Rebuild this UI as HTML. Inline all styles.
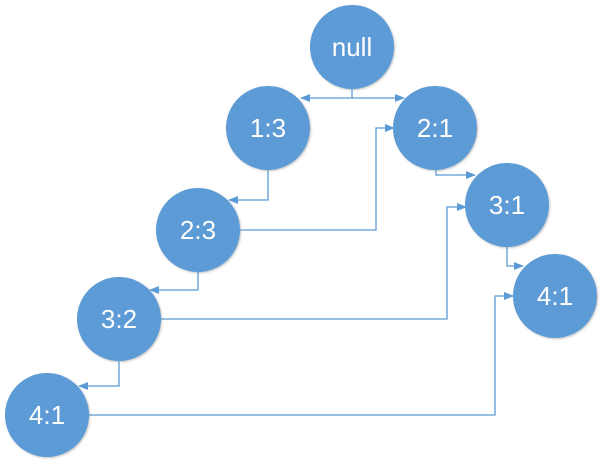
<!DOCTYPE html>
<html><head><style>html,body{margin:0;padding:0;background:#fff}svg{display:block}</style></head>
<body>
<svg width="603" height="465" viewBox="0 0 603 465" xmlns="http://www.w3.org/2000/svg">
<defs>
<marker id="a" markerWidth="10" markerHeight="8" refX="9" refY="4" orient="auto" markerUnits="userSpaceOnUse">
<path d="M0,0 L10,4 L0,8 z" fill="#5b9bd5"/></marker>
<filter id="s" x="-20%" y="-20%" width="140%" height="140%"><feDropShadow dx="1" dy="1" stdDeviation="1" flood-color="#888" flood-opacity="0.5"/></filter>
</defs>
<g fill="none" stroke="#5b9bd5" stroke-width="1.3">
<polyline points="352,89 352,98 301,98" marker-end="url(#a)"/>
<polyline points="352,98 404,98" marker-end="url(#a)"/>
<polyline points="268,170 268,200 229,200" marker-end="url(#a)"/>
<polyline points="240,230 376,230 376,128 394,128" marker-end="url(#a)"/>
<polyline points="436,170 436,175 475,175" marker-end="url(#a)"/>
<polyline points="198,272 198,290 150,290" marker-end="url(#a)"/>
<polyline points="161,319 447,319 447,207 466,207" marker-end="url(#a)"/>
<polyline points="507,247 507,266 523,266" marker-end="url(#a)"/>
<polyline points="119,361 119,386 79,386" marker-end="url(#a)"/>
<polyline points="88,415 495,415 495,296 513,296" marker-end="url(#a)"/>
</g>
<g fill="#5b9bd5" filter="url(#s)">
<circle cx="352" cy="47" r="42"/>
<circle cx="268" cy="128" r="42"/>
<circle cx="435" cy="128" r="42"/>
<circle cx="198" cy="230" r="42"/>
<circle cx="507" cy="205" r="42"/>
<circle cx="119" cy="319" r="42"/>
<circle cx="47" cy="415" r="42"/>
<circle cx="555" cy="296" r="42"/>
</g>
<g fill="#fff" font-family="Liberation Sans, sans-serif" font-size="26" text-anchor="middle">
<text x="352" y="56">null</text>
<text x="268" y="137">1:3</text>
<text x="435" y="137">2:1</text>
<text x="198" y="239">2:3</text>
<text x="507" y="214">3:1</text>
<text x="119" y="328">3:2</text>
<text x="47" y="424">4:1</text>
<text x="555" y="305">4:1</text>
</g>
</svg>
</body></html>
